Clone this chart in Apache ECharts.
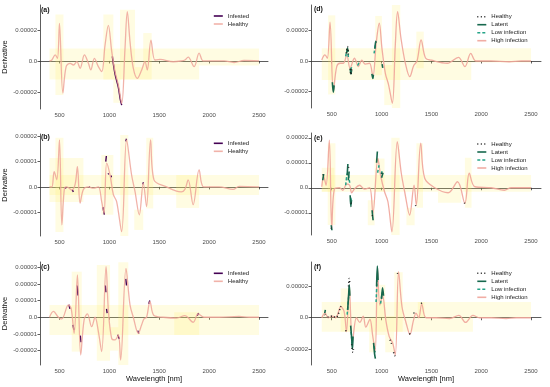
<!DOCTYPE html>
<html><head><meta charset="utf-8">
<script src="https://cdn.jsdelivr.net/npm/echarts@6/dist/echarts.min.js"></script>
<style>html,body{margin:0;padding:0;background:#fff}#c{width:550px;height:387px}</style>
</head><body><div id="c"></div><script>
const UNIT = 1e-5;
const xTicks = [500, 1000, 1500, 2000, 2500];
const xTickLabels = ['500', '1000', '1500', '2000', '2500'];
const yTicks2 = [-2, 0, 2];
const yTickLabels2 = ['-0.00002', '0.0', '0.00002'];
const yTicks1 = [-1, 0, 1, 2];
const yTickLabels1 = ['-0.00001', '0.0', '0.00001', '0.00002'];
const yTicksC = [-2, -1, 0, 1, 2, 3];
const yTickLabelsC = ['-0.00002', '-0.00001', '0.0', '0.00001', '0.00002', '0.00003'];

// Panel (a)
const wlA = [400,424,457,480,500,534,567,607,640,674,707,750,790,814,850,890,924,957,990,1024,1057,1090,1124,1157,1180,1207,1240,1280,1324,1357,1380,1417,1457,1507,1640,1720,1757,1790,1850,1900,1940,2000,2150,2250,2350,2500];
const healthyA = [0,0.06,0.39,0.17,2.43,-2.08,-0.37,-0.15,-0.26,-0.04,-0.47,0.39,-0.15,-0.58,0.17,-0.37,-0.69,1.03,2.3,0.6,-0.69,-1.55,-2.73,0.82,3.18,1.25,-0.47,-1.12,-0.58,-0.04,-0.58,1.35,0.06,0.1,-0.05,0,0.06,0.25,-0.37,0.5,0,0,0,-0.1,0.03,0];
const infestedA = [[[1030,0.3],[1057,-0.85],[1090,-1.7],[1110,-2.5],[1124,-2.85]]];
const rectsA = [[400,1900,-1.2,0.8],[1900,2500,-0.3,0.8],[460,540,-2.2,3.0],[940,1040,-1.2,3.0],[1040,1110,-2.7,-0.2],[1107,1257,-1.2,3.3],[1340,1424,-1.2,1.8],[1257,1340,-1.2,-0.4]];

// Panel (b)
const wlB = [400,424,447,473,500,524,550,573,623,657,680,707,740,790,840,890,923,947,973,1007,1040,1073,1123,1173,1223,1257,1300,1340,1373,1413,1447,1573,1673,1720,1757,1790,1840,1900,1947,2100,2240,2300,2500];
const healthyB = [0,0,0.6,0.28,1.86,-1.5,-0.05,0,-0.12,0.1,0.8,-0.64,-0.1,0,-0.05,0,-0.58,-1.04,0.94,0.47,-0.3,-0.58,-1.77,1.86,0.47,-0.18,-1.1,0.15,-0.78,1.86,0.28,0,-0.17,-0.2,-0.1,0.28,-0.7,0.67,0,0,-0.1,0.02,0];
const infestedB = [[[555,-0.05],[570,-0.02]],[[628,-0.12],[640,-0.2]],[[795,0],[805,-0.02]],[[935,-0.8],[950,-1.1]],[[964,1.0],[970,1.22]],[[985,0.5],[995,0.52]],[[1015,0.45],[1022,0.38]],[[1165,1.8],[1172,1.9]],[[1335,0.1],[1342,0.18]]];
const rectsB = [[400,2500,-0.32,0.47],[400,740,-0.6,1.14],[460,540,-1.78,1.94],[920,1040,-1.1,1.26],[1110,1190,-1.94,2.05],[1250,1340,-1.7,-0.9],[1370,1440,-0.85,1.94],[1670,1900,-0.83,0.47]];

// Panel (c)
const wlC = [400,440,490,523,590,617,647,680,713,747,780,823,857,890,923,967,990,1023,1057,1090,1113,1167,1207,1240,1290,1323,1347,1373,1407,1447,1540,1673,1757,1840,1890,1947,2100,2300,2400,2500];
const healthyC = [0,0.35,0,-0.1,0.74,0.53,-0.96,2.53,-2.26,-0.16,0.2,-0.56,0,-0.86,-2.06,3.03,0.44,-1.26,-1.36,-1.06,-2.56,2.93,0.74,0,-0.96,-0.46,-0.1,0,0.94,0.1,0,-0.05,0.1,-0.3,0.2,0,0,0.05,0,0];
const infestedC = [[[595,0.75],[605,0.5]],[[635,-0.45],[645,-0.75]],[[677,1.9],[686,1.3]],[[709,-1.1],[716,-1.5]],[[960,1.9],[966,1.5]],[[972,0.5],[978,0.25]],[[1083,-1.05],[1100,-1.3]],[[1165,2.3],[1172,1.9]],[[1285,-0.8],[1295,-0.98]],[[1395,0.8],[1405,1.0]],[[1880,0.1],[1895,0.25]]];
const rectsC = [[400,2500,-1.06,0.74],[623,723,-2.06,2.73],[874,1007,-2.6,3.13],[1007,1090,-2.0,-0.6],[1090,1190,-2.86,3.3],[1650,1900,-1.06,0.3]];

// Panel (d)
const wlD = [400,432,456,483,516,550,583,617,651,684,728,768,802,836,879,913,946,977,1004,1038,1071,1108,1138,1161,1195,1239,1283,1323,1356,1397,1441,1500,1660,1771,1837,1895,1946,2100,2281,2400,2500];
const highD = [0.07,0.4,0.18,2.55,-2.0,-0.37,-0.15,-0.15,0.4,-0.48,0.18,-0.37,0.05,-0.2,-0.15,-1.03,1.16,2.48,0.83,-0.81,-1.58,-2.78,1.05,3.24,1.49,-0.15,-1.03,-0.3,0,1.38,0.2,0.05,-0.15,0.24,-0.37,0.5,0,0,-0.05,0,0];
const healthyD = [[[645,0.5],[658,0.95],[668,0.3]],[[684,-0.5],[692,-0.9],[700,-0.5]]];
const latentD = [[[506,-1.4],[516,-2.05],[524,-1.6]],[[650,0.5],[658,0.85],[664,0.6]],[[686,-0.55],[693,-0.85],[699,-0.6]],[[903,-0.85],[913,-1.15],[918,-0.9]],[[933,0.8],[942,1.3],[947,1.2]],[[1005,-0.2],[1012,-0.45]]];
const lowD = [[[640,0.3],[655,0.7],[668,0.2]],[[690,-0.6],[705,-0.3]],[[925,0.5],[940,1.15]],[[760,-0.3],[775,-0.1]]];
const rectsD = [[400,1900,-1.25,0.83],[1900,2500,-0.1,0.83],[464,535,-2.2,3.0],[936,1003,-0.93,2.96],[1027,1104,-2.9,-0.26],[1104,1188,-3.09,3.68],[1349,1423,-0.48,1.93]];

// Panel (e)
const wlE = [400,419,443,476,500,527,577,611,650,680,700,728,779,829,880,913,963,990,1030,1064,1104,1158,1198,1232,1282,1326,1349,1393,1433,1534,1668,1762,1836,1880,1937,2100,2232,2300,2500];
const highE = [0.04,0.44,0.1,1.9,-1.62,-0.05,0,-0.1,0.15,0.1,-0.2,-0.05,0.1,-0.05,0,-1.02,1.17,0.5,-0.16,-0.56,-1.76,1.84,0.58,-0.16,-1.09,0.1,-0.69,1.78,0.38,0,-0.2,0.24,-0.62,0.58,0.04,0,-0.1,0,0];
const healthyE = [[[410,0.5],[424,0.6]],[[495,-1.6],[503,-1.72]],[[668,0.8],[680,0.92]],[[694,-0.6],[702,-0.75]],[[905,-1.1],[915,-1.2]],[[1000,0.6],[1010,0.5]],[[1340,-0.7],[1352,-0.8]],[[1832,-0.6],[1842,-0.72]]];
const latentE = [[[410,0.3],[419,0.55]],[[495,-1.5],[502,-1.7]],[[655,0.5],[662,0.95]],[[666,0.3],[675,0.65]],[[685,-0.3],[692,-0.75],[698,-0.5]],[[905,-0.9],[915,-1.3]],[[950,1.0],[958,1.45]],[[1000,0.4],[1015,0.6]]];
const lowE = [[[640,0.1],[660,0.6],[680,0.2]],[[690,-0.4],[705,-0.6]],[[960,0.6],[975,0.9]],[[995,0.55],[1010,0.7]]];
const rectsE = [[400,2500,-0.16,0.51],[400,527,-0.16,0.8],[460,537,-1.49,1.78],[862,930,-1.5,-0.5],[930,1030,-0.16,1.17],[1098,1181,-1.89,2.0],[1250,1332,-1.5,-0.8],[1350,1416,-0.8,1.78],[1836,1903,-0.8,1.2],[1567,1800,-0.6,-0.16]];

// Panel (f)
const wlF = [400,433,466,507,540,591,624,648,675,708,748,782,816,842,883,910,936,960,983,1010,1044,1077,1111,1138,1171,1205,1245,1285,1319,1346,1373,1403,1447,1547,1682,1776,1843,1917,1984,2100,2250,2350,2500];
const highF = [0,0.3,0,0.1,0,0.7,0.4,-0.89,1.97,-1.53,0,-0.3,0.1,-0.6,-0.1,-1.1,-2.17,3.15,0.8,1.4,-0.2,-1.2,-1.6,-2.38,2.93,0.7,-0.3,-1.06,-0.2,0.3,0,0.87,0,0,-0.05,0.15,-0.3,0.15,0,0,-0.05,0,0];
const healthyF = [[[430,0.2],[466,0.05],[507,0.12],[540,0],[591,0.75]],[[640,-0.8],[650,-1.0]],[[668,2.0],[676,2.5],[682,2.1]],[[700,-1.7],[712,-2.2],[718,-2.0]],[[1085,-1.4],[1100,-1.65]],[[1120,-2.2],[1135,-2.45]],[[1158,2.8],[1170,2.95]],[[1280,-1.0],[1290,-1.1]],[[1320,0.3],[1340,0.3]],[[1398,0.9],[1408,1.0]]];
const latentF = [[[430,0.3],[436,0.5]],[[660,0.5],[670,1.5],[676,2.1],[682,1.4]],[[690,-0.5],[700,-1.3],[708,-2.0],[714,-1.2]],[[920,-1.6],[930,-2.3],[938,-2.6]],[[950,2.0],[958,3.3],[965,2.4]],[[1000,1.2],[1010,1.9],[1020,1.4]]];
const lowF = [[[655,0.2],[668,1.2],[678,1.8]],[[695,-0.9],[706,-1.8]],[[925,-1.8],[935,-2.2]],[[945,1.0],[955,2.5]],[[990,0.9],[1005,1.6]]];
const rectsF = [[400,1917,-0.9,1.0],[1917,2500,0,1.0],[590,690,-0.89,1.87],[876,943,-2.2,0],[943,1037,-1.1,2.1],[1037,1128,-2.2,0.1],[1128,1212,-0.9,2.9],[1363,1430,0,1.0]];

const FONT = 'Liberation Sans, Arial, sans-serif';
const C_SALMON = '#EFA49A', C_INF = '#440154', C_LAT = '#17684E', C_LOW = '#25A488', C_HDOT = '#1a1a1a';

function pairs(wl, v) { return wl.map((w, i) => [w, v[i] * UNIT]); }
function segs(list) {
  const out = [];
  list.forEach((s, k) => {
    if (k) out.push([s[0][0] - 1, '-']);
    s.forEach(p => out.push([p[0], p[1] * UNIT]));
  });
  return out;
}
function areas(rects) {
  return rects.map(r => [{ coord: [r[0], r[2] * UNIT] }, { coord: [r[1], r[3] * UNIT] }]);
}

const panels = [
  { id: '(a)', grid: { left: 40, top: 5, width: 228, height: 104 }, x: [305, 2590], y: [-3.10, 3.61], ticks: yTicks2, labels: yTickLabels2, side: 'L', yName: true, xName: false, lab: [41, 11], leg: [208, 8] },
  { id: '(b)', grid: { left: 40, top: 134, width: 228, height: 102 }, x: [305, 2590], y: [-1.94, 2.09], ticks: yTicks1, labels: yTickLabels1, side: 'L', yName: true, xName: false, lab: [41, 138.5], leg: [208, 135.3] },
  { id: '(c)', grid: { left: 40, top: 262, width: 228, height: 103 }, x: [305, 2590], y: [-2.86, 3.31], ticks: yTicksC, labels: yTickLabelsC, side: 'L', yName: true, xName: true, lab: [41, 268], leg: [208, 265.3] },
  { id: '(d)', grid: { left: 311, top: 5, width: 230, height: 103 }, x: [292, 2600], y: [-3.09, 3.68], ticks: yTicks2, labels: yTickLabels2, side: 'R', yName: false, xName: false, lab: [314, 10], leg: [471.5, 8.7] },
  { id: '(e)', grid: { left: 311, top: 133, width: 230, height: 102 }, x: [292, 2600], y: [-1.89, 2.19], ticks: yTicks1, labels: yTickLabels1, side: 'R', yName: false, xName: false, lab: [314, 139], leg: [471.5, 136] },
  { id: '(f)', grid: { left: 311, top: 262, width: 230, height: 103 }, x: [292, 2600], y: [-3.01, 3.55], ticks: yTicks2, labels: yTickLabels2, side: 'R', yName: false, xName: true, lab: [314, 268.3], leg: [471.5, 265.3] }
];

const seriesData = [
  { main: pairs(wlA, healthyA), rects: rectsA, inf: infestedA },
  { main: pairs(wlB, healthyB), rects: rectsB, inf: infestedB },
  { main: pairs(wlC, healthyC), rects: rectsC, inf: infestedC },
  { main: pairs(wlD, highD), rects: rectsD, h: healthyD, lat: latentD, low: lowD },
  { main: pairs(wlE, highE), rects: rectsE, h: healthyE, lat: latentE, low: lowE },
  { main: pairs(wlF, highF), rects: rectsF, h: healthyF, lat: latentF, low: lowF }
];

const axisLineStyle = { color: '#333', width: 0.8 };
const grid = [], xAxis = [], yAxis = [], series = [], legend = [], graphic = [];
const legendCommon = { orient: 'vertical', itemWidth: 9, itemHeight: 6, itemGap: 2, selectedMode: false,
  itemStyle: { opacity: 0 }, lineStyle: { width: 1.6 },
  formatter: n => n.trim(), textStyle: { fontSize: 6, color: '#222', fontFamily: FONT, lineHeight: 6 } };

panels.forEach((p, i) => {
  grid.push(p.grid);
  xAxis.push({
    type: 'value', gridIndex: i, min: p.x[0], max: p.x[1],
    splitLine: { show: false },
    axisLine: { lineStyle: axisLineStyle },
    axisTick: { length: 2.5, lineStyle: axisLineStyle, customValues: xTicks },
    axisLabel: { customValues: xTicks, fontSize: 6, color: '#4d4d4d', margin: 3, fontFamily: FONT,
      formatter: v => { const k = xTicks.indexOf(Math.round(v)); return k >= 0 ? xTickLabels[k] : ''; } },
    name: p.xName ? 'Wavelength [nm]' : '', nameLocation: 'middle', nameGap: 10,
    nameTextStyle: { fontSize: 7.5, color: '#111', fontFamily: FONT }
  });
  yAxis.push({
    type: 'value', gridIndex: i, min: p.y[0] * UNIT, max: p.y[1] * UNIT,
    splitLine: { show: false },
    axisLine: { lineStyle: axisLineStyle },
    axisTick: { length: 2.5, lineStyle: axisLineStyle, customValues: p.ticks.map(t => t * UNIT) },
    axisLabel: { customValues: p.ticks.map(t => t * UNIT), fontSize: 6, color: '#4d4d4d', margin: 3, fontFamily: FONT,
      formatter: v => { const k = p.ticks.findIndex(t => Math.abs(t * UNIT - v) < 1e-9); return k >= 0 ? p.labels[k] : ''; } },
    name: p.yName ? 'Derivative' : '', nameLocation: 'middle', nameGap: 27,
    nameTextStyle: { fontSize: 7.5, color: '#111', fontFamily: FONT }
  });
  const d = seriesData[i];
  const base = { type: 'line', xAxisIndex: i, yAxisIndex: i, symbol: 'none', showSymbol: false, smooth: 0.35, silent: true, animation: false };
  if (p.side === 'L') {
    series.push(Object.assign({}, base, { name: 'Infested', data: segs(d.inf), z: 3, lineStyle: { color: C_INF, width: 1.4 }, itemStyle: { color: C_INF } }));
    series.push(Object.assign({}, base, { name: 'Healthy', data: d.main, z: 4, lineStyle: { color: C_SALMON, width: 1.3, opacity: 0.85 }, itemStyle: { color: C_SALMON },
      markArea: { silent: true, itemStyle: { color: 'rgba(255,238,110,0.2)' }, data: areas(d.rects) } }));
    legend.push(Object.assign({}, legendCommon, { data: ['Infested', 'Healthy'], left: p.leg[0], top: p.leg[1] }));
  } else {
    series.push(Object.assign({}, base, { name: 'High infection', data: d.main, z: 2, lineStyle: { color: C_SALMON, width: 1.3, opacity: 0.9 }, itemStyle: { color: C_SALMON },
      markArea: { silent: true, itemStyle: { color: 'rgba(255,238,110,0.2)' }, data: areas(d.rects) } }));
    series.push(Object.assign({}, base, { name: 'Low infection', data: segs(d.low), z: 3, lineStyle: { color: C_LOW, width: 1.5, type: [3, 2] }, itemStyle: { color: C_LOW } }));
    series.push(Object.assign({}, base, { name: 'Latent', data: segs(d.lat), z: 4, lineStyle: { color: C_LAT, width: 1.6 }, itemStyle: { color: C_LAT } }));
    series.push(Object.assign({}, base, { name: 'Healthy ', data: segs(d.h), z: 5, lineStyle: { color: C_HDOT, width: 1.5, type: [1, 2.5] }, itemStyle: { color: C_HDOT } }));
    legend.push(Object.assign({}, legendCommon, { data: ['Healthy ', 'Latent', 'Low infection', 'High infection'], left: p.leg[0], top: p.leg[1] }));
  }
  graphic.push({ type: 'text', left: p.lab[0], top: p.lab[1] - 4.5, silent: true,
    style: { text: p.id, font: 'bold 7px ' + FONT, fill: '#111' } });
});

const chart = echarts.init(document.getElementById('c'), null, { renderer: 'canvas' });
chart.setOption({ backgroundColor: '#fff', animation: false, grid, xAxis, yAxis, series, legend, graphic });
</script></body></html>
